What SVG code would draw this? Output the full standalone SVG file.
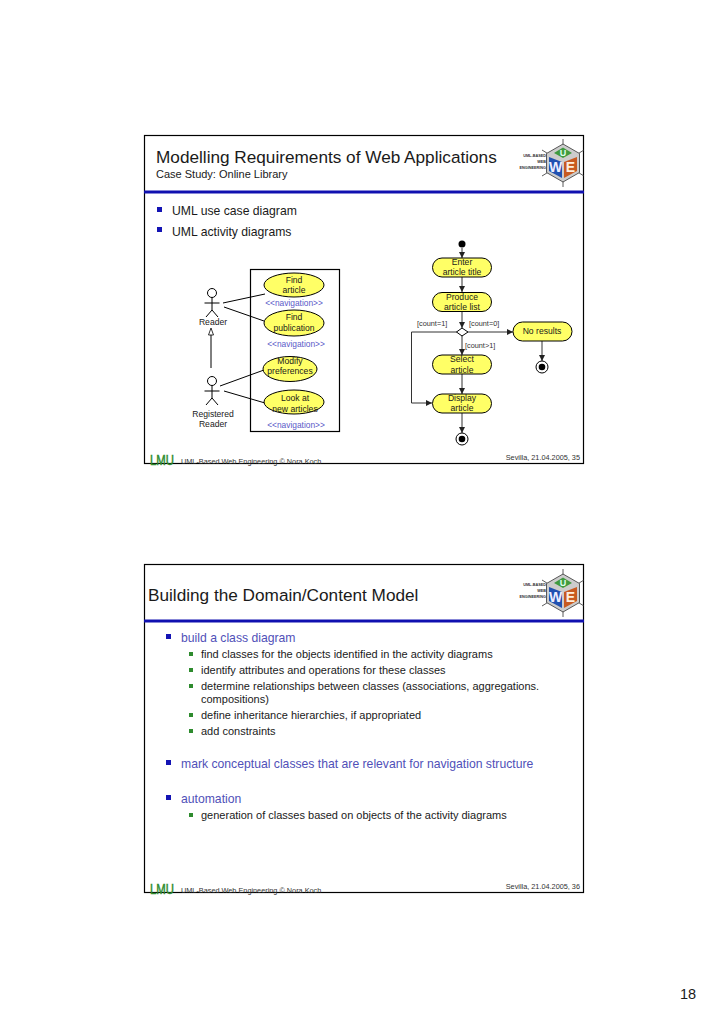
<svg xmlns="http://www.w3.org/2000/svg" width="728" height="1030" viewBox="0 0 728 1030">
<style>
text{font-family:"Liberation Sans",Arial,sans-serif;fill:#1a1a1a}
.slide{fill:#fff;stroke:#000;stroke-width:1.2}
.rule{stroke:#1010b0;stroke-width:3}
.title{font-size:17.2px}
.sub{font-size:11px}
.b1{font-size:12.2px}
.h{font-size:12.2px;fill:#5050b8}
.b2{font-size:11px}
.foot{font-size:7.3px;fill:#333}
.lmu{font-size:15px;fill:#2e8b2e;stroke:#2e8b2e;stroke-width:.5}
.n{font-size:8.6px;text-anchor:middle}
.st{font-size:8.4px;text-anchor:middle;fill:#5a5ac8}
.g{font-size:7.3px;fill:#333}
.uc,.ac{fill:#ffff66;stroke:#000;stroke-width:1}
.ln{stroke:#000;stroke-width:1;fill:none}
.ar{stroke:#333;stroke-width:1;fill:none;marker-end:url(#a)}
.lt{font-size:3.8px;font-weight:bold;text-anchor:end;fill:#333}
.sp{stroke:#333;stroke-width:.8}
</style>
<defs>
<marker id="a" markerWidth="7" markerHeight="7" refX="6" refY="3" orient="auto" markerUnits="userSpaceOnUse"><path d="M0 0L6 3L0 6z" fill="#222"/></marker>
<g id="cube">
<path class="sp" d="M0-24V24M-21-13L21 13M-21 13L21-13"/>
<path d="M0-19L16.500-9.500V9.500L0 19L-16.500 9.500V-9.500z" fill="#ccc" stroke="#333" stroke-width=".8"/>
<path d="M-9-10L0-15.500L9-10L0-5z" fill="#3f9a3f"/>
<path d="M-14-6L-1-1V15L-14 8z" fill="#2050b0"/>
<path d="M1-1L14-6V8L1 15z" fill="#c85a20"/>
<text x="0" y="-7" font-size="9" font-weight="bold" text-anchor="middle" style="fill:#dfe">U</text>
<text x="-7.500" y="9" font-size="14" font-weight="bold" text-anchor="middle" style="fill:#eef">W</text>
<text x="7.500" y="9" font-size="14" font-weight="bold" text-anchor="middle" style="fill:#fed">E</text>
</g>
<g id="actor" class="ln"><circle cx="0" cy="0" r="4.500" fill="#fff"/><path d="M0 4.500V17M-7.500 10H7.500M0 17L-6 24M0 17L6 24"/></g>
</defs>

<g id="slide1">
<rect class="slide" x="144.500" y="135.500" width="439" height="328"/>
<line class="rule" x1="144" y1="192" x2="584" y2="192"/>
<text class="title" x="156" y="163">Modelling Requirements of Web Applications</text>
<text class="sub" x="156" y="178">Case Study: Online Library</text>
<g id="logo1"><use href="#cube" x="563" y="163"/><text class="lt" x="546" y="157">UML-BASED</text><text class="lt" x="546" y="163">WEB</text><text class="lt" x="546" y="169">ENGINEERING</text></g>
<rect x="157" y="207" width="5" height="5" fill="#1414b4"/>
<text class="b1" x="172" y="215">UML use case diagram</text>
<rect x="157" y="227" width="5" height="5" fill="#1414b4"/>
<text class="b1" x="172" y="236">UML activity diagrams</text>
<text class="lmu" x="150" y="465" textLength="24" lengthAdjust="spacingAndGlyphs">LMU</text>
<text class="foot" x="181" y="464">UML-Based Web Engineering © Nora Koch</text>
<text class="foot" x="580" y="460" text-anchor="end">Sevilla, 21.04.2005, 35</text>
</g>

<g id="system-boundary"><rect x="250.500" y="269.500" width="89" height="162" fill="none" stroke="#000" stroke-width="1.2"/></g>

<g id="connectors">
<path class="ln" d="M223 303L265 294M224 307L264 321M220 386L264 370M224 391L265 403M211 368V335"/>
<path d="M211 328L213.500 335H208.500z" fill="#fff" stroke="#000" stroke-width=".8"/>
<path class="ar" d="M462 248V258"/>
<path class="ar" d="M462 277V292"/>
<path class="ar" d="M462 312V328"/>
<path class="ar" d="M462 336V355"/>
<path class="ar" d="M462 374V394"/>
<path class="ar" d="M462 413V433"/>
<path class="ar" d="M468 332H513"/>
<path class="ar" d="M542 341V361"/>
<path class="ar" d="M457 332H411.500V403H432"/>
</g>

<g id="actor-reader"><use href="#actor" x="212" y="293"/><text class="n" x="213" y="325">Reader</text></g>
<g id="actor-registered"><use href="#actor" x="212" y="381"/><text class="n" x="213" y="417">Registered</text><text class="n" x="213" y="427">Reader</text></g>

<g id="uc-find-article"><ellipse class="uc" cx="294" cy="285" rx="30" ry="12"/><text class="n" x="294" y="283">Find</text><text class="n" x="294" y="293">article</text></g>
<text class="st" x="294" y="306">&lt;&lt;navigation&gt;&gt;</text>
<g id="uc-find-publication"><ellipse class="uc" cx="294" cy="323" rx="30" ry="13"/><text class="n" x="294" y="320">Find</text><text class="n" x="294" y="331">publication</text></g>
<text class="st" x="296" y="347">&lt;&lt;navigation&gt;&gt;</text>
<g id="uc-modify"><ellipse class="uc" cx="290" cy="369" rx="27" ry="12.500"/><text class="n" x="290" y="364">Modify</text><text class="n" x="290" y="374">preferences</text></g>
<g id="uc-look"><ellipse class="uc" cx="294" cy="402" rx="30" ry="12"/><text class="n" x="295" y="401">Look at</text><text class="n" x="295" y="412">new articles</text></g>
<text class="st" x="296" y="428">&lt;&lt;navigation&gt;&gt;</text>

<g id="start"><circle cx="462" cy="244" r="3.500" fill="#000"/></g>
<g id="ac-enter"><rect class="ac" x="432.500" y="258" width="59" height="19" rx="9.500"/><text class="n" x="462" y="265">Enter</text><text class="n" x="462" y="275">article title</text></g>
<g id="ac-produce"><rect class="ac" x="432.500" y="292.500" width="59" height="19" rx="9.500"/><text class="n" x="462" y="300">Produce</text><text class="n" x="462" y="310">article list</text></g>
<g id="decision"><path d="M462 328L468 332L462 336L456.500 332z" fill="#fff" stroke="#000"/></g>
<text class="g" x="417" y="326">[count=1]</text>
<text class="g" x="469" y="326">[count=0]</text>
<text class="g" x="465" y="348">[count&gt;1]</text>
<g id="ac-none"><rect class="ac" x="513" y="322" width="59" height="19" rx="9.500"/><text class="n" x="542" y="334">No results</text></g>
<g id="ac-select"><rect class="ac" x="432.500" y="355" width="59" height="19" rx="9.500"/><text class="n" x="462" y="362">Select</text><text class="n" x="462" y="373">article</text></g>
<g id="ac-display"><rect class="ac" x="432.500" y="394" width="59" height="19" rx="9.500"/><text class="n" x="462" y="401">Display</text><text class="n" x="462" y="411">article</text></g>
<g id="end1"><circle cx="542" cy="367" r="6" fill="#fff" stroke="#000"/><circle cx="542" cy="367" r="3.300" fill="#000"/></g>
<g id="end2"><circle cx="462" cy="439" r="6" fill="#fff" stroke="#000"/><circle cx="462" cy="439" r="3.300" fill="#000"/></g>

<g id="slide2">
<rect class="slide" x="144.500" y="564.500" width="439" height="328"/>
<line class="rule" x1="144" y1="621" x2="584" y2="621"/>
<text class="title" x="148" y="601">Building the Domain/Content Model</text>
<g id="logo2"><use href="#cube" x="563" y="593"/><text class="lt" x="546" y="586">UML-BASED</text><text class="lt" x="546" y="592">WEB</text><text class="lt" x="546" y="598">ENGINEERING</text></g>
<rect x="166" y="634" width="5" height="5" fill="#1414b4"/>
<text class="h" x="181" y="642">build a class diagram</text>
<g fill="#2e8b2e">
<rect x="189" y="652" width="4" height="4"/><rect x="189" y="668" width="4" height="4"/><rect x="189" y="684" width="4" height="4"/><rect x="189" y="713" width="4" height="4"/><rect x="189" y="729" width="4" height="4"/><rect x="189" y="813" width="4" height="4"/>
</g>
<text class="b2" x="201" y="658">find classes for the objects identified in the activity diagrams</text>
<text class="b2" x="201" y="674">identify attributes and operations for these classes</text>
<text class="b2" x="201" y="690">determine relationships between classes (associations, aggregations.</text>
<text class="b2" x="201" y="703">compositions)</text>
<text class="b2" x="201" y="719">define inheritance hierarchies, if appropriated</text>
<text class="b2" x="201" y="735">add constraints</text>
<rect x="166" y="760" width="5" height="5" fill="#1414b4"/>
<text class="h" x="181" y="768">mark conceptual classes that are relevant for navigation structure</text>
<rect x="166" y="795" width="5" height="5" fill="#1414b4"/>
<text class="h" x="181" y="803">automation</text>
<text class="b2" x="201" y="819">generation of classes based on objects of the activity diagrams</text>
<text class="lmu" x="150" y="894" textLength="24" lengthAdjust="spacingAndGlyphs">LMU</text>
<text class="foot" x="181" y="893">UML-Based Web Engineering © Nora Koch</text>
<text class="foot" x="580" y="889" text-anchor="end">Sevilla, 21.04.2005, 36</text>
</g>

<text id="page" x="680" y="999" font-size="14.500">18</text>
</svg>
